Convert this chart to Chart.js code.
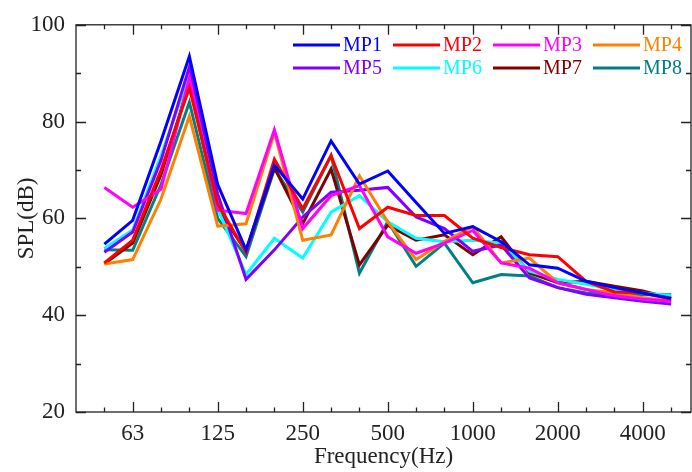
<!DOCTYPE html>
<html>
<head>
<meta charset="utf-8">
<script src="https://cdn.jsdelivr.net/npm/chart.js@4"></script>
<style>
html,body{margin:0;padding:0;background:#fff;}
canvas{display:block;}
</style>
</head>
<body>
<canvas id="c" width="692" height="472"></canvas>
<script>
// 1/3-octave band centre frequencies (Hz)
const bands = [50,63,80,100,125,160,200,250,315,400,500,630,800,1000,1250,1600,2000,2500,3150,4000,5000];
// labelled bands on the x axis
const tickLabels = ['63','125','250','500','1000','2000','4000'];

const seriesNames = ['MP1','MP2','MP3','MP4','MP5','MP6','MP7','MP8'];
const seriesColors = ['#0000FF','#FF0000','#FF00FF','#FF8000','#8000FF','#00FFFF','#800000','#008080'];

const MP1 = [54.7,59.6,76.0,93.5,67.0,53.5,71.0,64.0,76.0,67.1,69.8,63.3,56.9,58.3,55.2,50.4,49.7,47.0,45.7,44.6,43.5];
const MP2 = [50.8,55.5,70.0,87.0,63.0,53.0,72.2,62.0,73.0,57.9,62.3,60.6,60.6,55.9,54.0,52.5,52.1,47.0,44.8,44.6,43.3];
const MP3 = [66.4,62.3,66.0,89.0,61.7,61.0,78.3,57.9,64.7,66.8,56.2,52.8,54.9,57.5,50.8,49.7,46.7,45.3,44.0,43.3,42.9];
const MP4 = [50.6,51.5,64.0,81.1,58.4,58.9,77.7,55.5,56.6,68.8,59.3,51.5,55.2,58.3,50.8,51.8,46.7,45.3,44.6,43.6,42.9];
const MP5 = [53.0,57.2,72.0,91.3,65.0,47.4,53.5,60.3,65.4,65.8,66.4,60.3,57.9,53.2,54.5,47.7,45.7,44.3,43.6,42.9,42.3];
const MP6 = [53.8,57.6,73.0,89.6,62.0,48.4,55.9,51.8,61.3,64.7,59.3,55.9,55.2,55.5,54.9,49.1,47.4,46.4,45.3,44.6,44.0];
const MP7 = [50.6,54.9,69.0,88.0,62.0,53.2,70.5,58.9,70.2,50.4,58.6,55.5,56.6,52.5,56.2,48.7,46.7,47.0,46.0,45.0,43.5];
const MP8 = [53.5,53.4,67.0,84.0,60.0,52.1,70.2,61.3,73.0,48.7,59.3,50.1,54.9,46.7,48.4,48.1,45.7,44.6,44.3,44.2,44.2];

const allSeries = [MP1,MP2,MP3,MP4,MP5,MP6,MP7,MP8];

const FONT = "'Liberation Serif','Times New Roman',serif";
const AXIS_COLOR = '#222';

const datasets = allSeries.map((vals, k) => ({
  label: seriesNames[k],
  data: vals.map((v, i) => ({x: i, y: v})),
  borderColor: seriesColors[k],
  backgroundColor: seriesColors[k],
  borderWidth: 3,
  pointRadius: 0,
  tension: 0,
  fill: false
}));

function bandLabel(i){
  const f = String(bands[i]);
  return tickLabels.includes(f) ? f : '';
}

const framePlugin = {
  id: 'frameTicks',
  afterDatasetsDraw(chart){
    const {ctx, chartArea: a, scales: {x, y}} = chart;
    ctx.save();
    ctx.strokeStyle = AXIS_COLOR;
    ctx.lineWidth = 1.3;
    ctx.strokeRect(a.left, a.top, a.right - a.left, a.bottom - a.top);
    ctx.beginPath();
    bands.forEach((b, i) => {
      const px = Math.round(x.getPixelForValue(i)) + 0.5;
      const len = tickLabels.includes(String(b)) ? 10 : 4.5;
      ctx.moveTo(px, a.bottom); ctx.lineTo(px, a.bottom - len);
      ctx.moveTo(px, a.top); ctx.lineTo(px, a.top + len);
    });
    for (let v = 20; v <= 100; v += 10) {
      const py = Math.round(y.getPixelForValue(v)) + 0.5;
      const len = v % 20 === 0 ? 10 : 5;
      ctx.moveTo(a.left, py); ctx.lineTo(a.left + len, py);
      ctx.moveTo(a.right, py); ctx.lineTo(a.right - len, py);
    }
    ctx.stroke();
    ctx.restore();
  },
  afterDraw(chart){
    const {ctx} = chart;
    ctx.save();
    ctx.font = "20px " + FONT;
    ctx.textBaseline = 'middle';
    ctx.textAlign = 'left';
    const x0 = 293, y0 = 45, dx = 100, dy = 23;
    seriesNames.forEach((n, k) => {
      const col = k % 4, row = Math.floor(k / 4);
      const lx = x0 + col * dx, ly = y0 + row * dy;
      ctx.strokeStyle = seriesColors[k];
      ctx.lineWidth = 3;
      ctx.beginPath();
      ctx.moveTo(lx, ly); ctx.lineTo(lx + 47, ly);
      ctx.stroke();
      ctx.fillStyle = seriesColors[k];
      ctx.fillText(n, lx + 50, ly + 1);
    });
    ctx.restore();
  }
};

new Chart(document.getElementById('c'), {
  type: 'line',
  data: {datasets},
  plugins: [framePlugin],
  options: {
    responsive: false,
    animation: false,
    layout: {padding: {top: 21, right: 1, left: 0, bottom: 0}},
    plugins: {legend: {display: false}, tooltip: {enabled: false}},
    scales: {
      x: {
        type: 'linear',
        min: -1, max: 20.7,
        grid: {display: false, drawTicks: false},
        border: {display: false},
        afterFit(s){ s.height = 60; },
        ticks: {
          stepSize: 1,
          includeBounds: false,
          autoSkip: false,
          maxRotation: 0,
          padding: 8,
          color: AXIS_COLOR,
          font: {family: FONT, size: 23},
          callback: (v) => (Number.isInteger(v) && v >= 0 && v < bands.length) ? bandLabel(v) : ''
        },
        title: {display: true, text: 'Frequency(Hz)', color: AXIS_COLOR,
                font: {family: FONT, size: 23}, padding: {top: 0, bottom: 1}}
      },
      y: {
        min: 20, max: 100,
        grid: {display: false, drawTicks: false},
        border: {display: false},
        afterFit(s){ s.width = 76; },
        ticks: {stepSize: 20, padding: 11, color: AXIS_COLOR, font: {family: FONT, size: 23}},
        title: {display: true, text: 'SPL(dB)', color: AXIS_COLOR,
                font: {family: FONT, size: 23}, padding: {top: 13, bottom: 0}}
      }
    }
  }
});
</script>
</body>
</html>
